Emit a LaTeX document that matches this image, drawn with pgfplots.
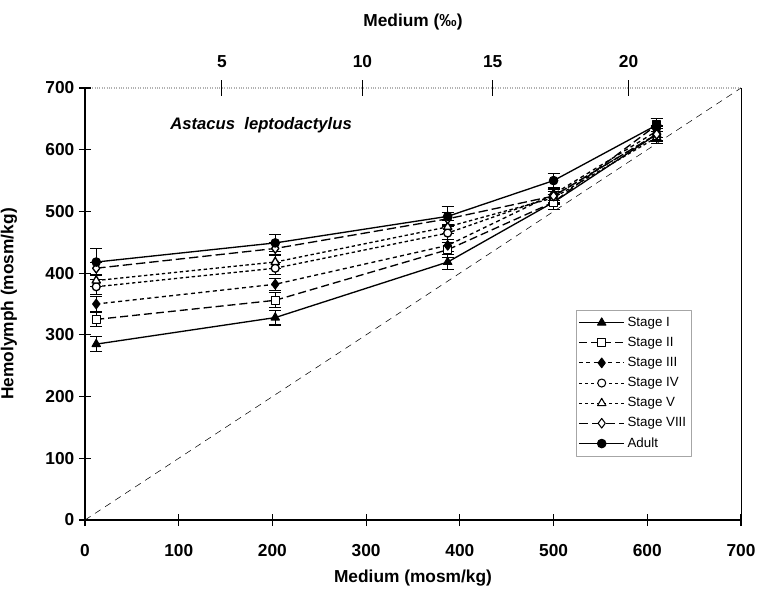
\documentclass[border=0pt]{standalone}
\usepackage{pgfplots}
\pgfplotsset{compat=1.18}
\usepackage{fontspec}
\setmainfont{Liberation Sans}
\begin{document}
\begin{tikzpicture}[line join=round, line cap=butt, font=\bfseries]
% picture frame: 759 x 589 px at 0.75pt per px, axis box 492pt x 324pt
\useasboundingbox (-63.75pt,-51.75pt) rectangle (505.5pt,390pt);
\pgfplotsset{
  every axis/.append style={
    width=492pt, height=324pt, scale only axis,
    xmin=0, xmax=700, ymin=0, ymax=700,
    tick style={black, line width=0.8pt},
    /pgf/number format/assume math mode=true,
    ticklabel style={font=\fontsize{13}{15}\selectfont\bfseries},
    label style={font=\fontsize{13}{15}\selectfont\bfseries},
  },
  err/.style={error bars/.cd, y dir=both, y explicit,
    error bar style={line width=0.8pt, solid},
    error mark options={solid, rotate=90, mark size=4.5pt, line width=0.8pt}},
}
% top axis (salinity)
\begin{axis}[
  axis x line*=top, axis y line*=right,
  x axis line style={gray!60, densely dotted, line width=0.8pt},
  y axis line style={black, line width=0.6pt},
  ytick=\empty,
  xtick={146,296,435,580}, xticklabels={5,10,15,20},
  tick align=center, major tick length=12pt,
  xlabel={Medium (‰)},
  xlabel style={at={(axis description cs:0.5,1.153)}, anchor=center},
  xticklabel style={yshift=5.5pt},
]
\end{axis}
% main axis
\begin{axis}[
  axis x line*=bottom, axis y line*=left,
  axis line style={line width=1.3pt, -},
  xtick={0,100,...,700}, ytick={0,100,...,700},
  tick align=center, major tick length=9pt,
  xticklabel style={yshift=-10pt},
  xlabel={Medium (mosm/kg)}, ylabel={Hemolymph (mosm/kg)},
  xlabel style={at={(axis description cs:0.5,-0.134)}, anchor=center},
  ylabel style={at={(axis description cs:-0.1159,0.5)}, anchor=center, rotate=0},
  legend cell align=left,
  legend style={at={(0.925,0.486)}, anchor=north east, draw=gray!70, line width=0.5pt,
    font=\fontsize{10}{12}\selectfont\mdseries, row sep=2.6pt, inner xsep=2pt, inner ysep=3pt},
  legend image code/.code={\draw[mark repeat=2, mark phase=2, #1]
    plot coordinates {(0pt,0pt) (17pt,0pt) (34pt,0pt)};},
  legend image post style={line width=0.8pt},
  every axis plot/.append style={line width=1pt},
  mark options={solid, line width=0.8pt},
]
\addplot[black, mark=triangle*, mark size=3.6pt, err] coordinates {
  (12,285) +- (0,12) (203,328) +- (0,12) (387,418) +- (0,12) (500,515) +- (0,12) (610,625) +- (0,12)};
\addlegendentry{Stage I}
\addplot[black, dash pattern=on 6pt off 3pt, mark=square*, mark options={solid, fill=white}, mark size=3pt, err] coordinates {
  (12,325) +- (0,12) (203,356) +- (0,12) (387,438) +- (0,12) (500,515) +- (0,12) (610,640) +- (0,10)};
\addlegendentry{Stage II}
\addplot[black, dash pattern=on 3pt off 2.5pt, mark=diamond*, mark size=3.6pt, err] coordinates {
  (12,350) +- (0,12) (203,382) +- (0,10) (387,445) +- (0,10) (500,528) +- (0,10) (610,630) +- (0,10)};
\addlegendentry{Stage III}
\addplot[black, dash pattern=on 2.5pt off 2pt, mark=*, mark options={solid, fill=white}, mark size=3pt, err] coordinates {
  (12,378) +- (0,12) (203,408) +- (0,10) (387,465) +- (0,10) (500,525) +- (0,10) (610,625) +- (0,10)};
\addlegendentry{Stage IV}
\addplot[black, dash pattern=on 2.5pt off 2pt, mark=triangle*, mark options={solid, fill=white}, mark size=3.6pt, err] coordinates {
  (12,388) +- (0,10) (203,418) +- (0,10) (387,475) +- (0,10) (500,522) +- (0,10) (610,620) +- (0,10)};
\addlegendentry{Stage V}
\addplot[black, dash pattern=on 7pt off 3pt, mark=diamond*, mark options={solid, fill=white}, mark size=3.6pt, err] coordinates {
  (12,408) +- (0,10) (203,440) +- (0,10) (387,488) +- (0,10) (500,525) +- (0,10) (610,625) +- (0,10)};
\addlegendentry{Stage VIII}
\addplot[black, mark=*, mark size=3.2pt, err] coordinates {
  (12,418) +- (0,22) (203,449) +- (0,14) (387,492) +- (0,16) (500,550) +- (0,12) (610,640) +- (0,10)};
\addlegendentry{Adult}
% isosmotic line
\addplot[black, line width=0.4pt, dash pattern=on 5pt off 4pt, forget plot] coordinates {(0,0) (700,700)};
\node[anchor=west, font=\fontsize{12.5}{14}\selectfont\bfseries\itshape] at (axis cs:86,640) {Astacus\ \ leptodactylus};
\end{axis}
\end{tikzpicture}
\end{document}
